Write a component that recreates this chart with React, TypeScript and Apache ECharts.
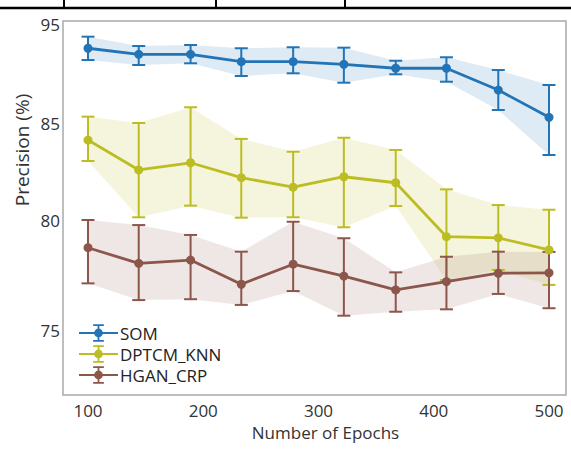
import React, { useEffect, useRef } from "react";
import * as echarts from "echarts";

// Training epochs (x) and precision statistics per model (mean / upper / lower, in %)
const epochs = [100, 144, 189, 233, 278, 322, 367, 411, 456, 500];

const somMean = [92.55, 91.94, 91.94, 91.19, 91.19, 90.93, 90.53, 90.53, 88.33, 85.57];
const somUpper = [93.72, 92.78, 92.88, 92.55, 92.65, 92.61, 91.29, 91.64, 90.35, 88.84];
const somLower = [91.36, 90.86, 91.03, 89.75, 90.02, 89.07, 89.92, 89.17, 86.31, 83.35];

const knnMean = [84.12, 82.58, 82.95, 82.18, 81.69, 82.23, 81.92, 79.24, 79.19, 78.64];
const knnUpper = [85.64, 85.0, 86.59, 84.18, 83.52, 84.24, 83.61, 81.58, 80.77, 80.53];
const knnLower = [83.04, 80.14, 80.74, 80.12, 80.14, 79.67, 80.72, 77.27, 77.73, 77.05];

const hganMean = [78.74, 78.03, 78.18, 77.08, 77.99, 77.45, 76.82, 77.2, 77.58, 77.6];
const hganUpper = [80.0, 79.77, 79.32, 78.56, 79.92, 79.17, 77.62, 78.33, 78.56, 78.55];
const hganLower = [77.12, 76.36, 76.4, 76.14, 76.77, 75.65, 75.83, 75.94, 76.64, 75.99];

const seriesNames = ["SOM", "DPTCM_KNN", "HGAN_CRP"];
const xTickLabels = [100, 200, 300, 400, 500];
const yTickLabels = [75, 80, 85, 95];

// The precision axis is broken into segments between its tick labels;
// each segment gets its own drawing span.
const ySegmentSpan = [110, 97, 99];
const yTickPos = yTickLabels.map((_, i) =>
  ySegmentSpan.slice(0, i).reduce((a, b) => a + b, 0)
);

function toAxis(v: number): number {
  const n = yTickLabels.length;
  if (v <= yTickLabels[0]) {
    const slope = ySegmentSpan[0] / (yTickLabels[1] - yTickLabels[0]);
    return (v - yTickLabels[0]) * slope;
  }
  for (let i = 0; i < n - 1; i++) {
    const a = yTickLabels[i];
    const b = yTickLabels[i + 1];
    if (v <= b) {
      return yTickPos[i] + ((v - a) / (b - a)) * ySegmentSpan[i];
    }
  }
  const slope = ySegmentSpan[n - 2] / (yTickLabels[n - 1] - yTickLabels[n - 2]);
  return yTickPos[n - 1] + (v - yTickLabels[n - 1]) * slope;
}

const FONT = "Open Sans";
const colors = ["#2274b6", "#bcbd22", "#8c564b"];
const bandFills = [
  "rgba(31,119,180,0.15)",
  "rgba(188,189,34,0.15)",
  "rgba(140,86,75,0.14)",
];

// legend glyph: line + error bar with caps + round marker
const legendIcon =
  "path://M0 8.1H40V9.9H0Z M19.1 1H20.9V17H19.1Z M14.5 0H25.5V1.8H14.5Z M14.5 16.2H25.5V18H14.5Z M24.5 9A4.5 4.5 0 1 1 15.5 9A4.5 4.5 0 1 1 24.5 9Z";

export default function App() {
  const ref = useRef<HTMLDivElement>(null);

  useEffect(() => {
    document.body.style.margin = "0";
    const chart = echarts.init(ref.current!, undefined, { renderer: "svg" });

    const groups = [
      { mean: somMean, upper: somUpper, lower: somLower },
      { mean: knnMean, upper: knnUpper, lower: knnLower },
      { mean: hganMean, upper: hganUpper, lower: hganLower },
    ];

    const lineSeries: any[] = groups.map((g, k) => ({
      name: seriesNames[k],
      type: "line",
      data: epochs.map((e, i) => [e, toAxis(g.mean[i])]),
      symbol: "circle",
      symbolSize: 9,
      showSymbol: true,
      itemStyle: { color: colors[k] },
      lineStyle: { color: colors[k], width: 2.8 },
      z: 5,
    }));

    const bandSeries: any[] = groups.map((g, k) => ({
      name: seriesNames[k],
      type: "custom",
      silent: true,
      data: [[epochs[0], toAxis(g.mean[0])]],
      itemStyle: { color: colors[k] },
      z: 1,
      renderItem: (_params: any, api: any) => {
        const top = epochs.map((e, i) => api.coord([e, toAxis(g.upper[i])]));
        const bottom = epochs
          .map((e, i) => api.coord([e, toAxis(g.lower[i])]))
          .reverse();
        return {
          type: "polygon",
          shape: { points: top.concat(bottom) },
          style: { fill: bandFills[k], stroke: "none" },
        };
      },
    }));

    const errorSeries: any[] = groups.map((g, k) => ({
      name: seriesNames[k],
      type: "custom",
      silent: true,
      data: epochs.map((e, i) => [e, toAxis(g.lower[i]), toAxis(g.upper[i])]),
      itemStyle: { color: colors[k] },
      z: 3,
      renderItem: (_params: any, api: any) => {
        const x = api.value(0);
        const pLo = api.coord([x, api.value(1)]);
        const pHi = api.coord([x, api.value(2)]);
        const hw = 6.5;
        const style = { stroke: colors[k], lineWidth: 2 };
        return {
          type: "group",
          children: [
            { type: "line", shape: { x1: pHi[0], y1: pHi[1], x2: pLo[0], y2: pLo[1] }, style },
            { type: "line", shape: { x1: pHi[0] - hw, y1: pHi[1], x2: pHi[0] + hw, y2: pHi[1] }, style },
            { type: "line", shape: { x1: pLo[0] - hw, y1: pLo[1], x2: pLo[0] + hw, y2: pLo[1] }, style },
          ],
        };
      },
    }));

    chart.setOption({
      animation: false,
      backgroundColor: "#ffffff",
      grid: {
        left: 63,
        right: 5,
        top: 21,
        bottom: 56,
        show: true,
        borderColor: "#a9a9a9",
        borderWidth: 1.5,
        backgroundColor: "transparent",
      },
      xAxis: {
        type: "value",
        min: 78.3,
        max: 514.75,
        name: "Number of Epochs",
        nameLocation: "middle",
        nameGap: 28,
        nameTextStyle: { fontFamily: FONT, fontSize: 17, color: "#333", padding: [0, 0, 0, 22] },
        axisLine: { show: false },
        axisTick: { show: false },
        splitLine: { show: false },
        axisLabel: {
          customValues: xTickLabels,
          fontFamily: FONT,
          fontSize: 17,
          color: "#333",
          margin: 7,
        },
      },
      yAxis: {
        type: "value",
        min: -65,
        max: 309,
        axisLine: { show: false },
        axisTick: { show: false },
        splitLine: { show: false },
        axisLabel: {
          customValues: yTickPos,
          fontFamily: FONT,
          fontSize: 17,
          color: "#333",
          margin: 3,
          formatter: (val: number) => {
            let best = 0;
            yTickPos.forEach((p, i) => {
              if (Math.abs(p - val) < Math.abs(yTickPos[best] - val)) best = i;
            });
            return String(yTickLabels[best]);
          },
        },
      },
      legend: {
        data: seriesNames.map((n) => ({ name: n, icon: legendIcon })),
        orient: "vertical",
        left: 74,
        top: 319,
        itemWidth: 39,
        itemHeight: 18,
        itemGap: 3,
        textStyle: {
          fontFamily: FONT,
          fontSize: 17,
          lineHeight: 18,
          color: "#222",
          padding: [0, 0, 0, -3],
        },
        selectedMode: false,
      },
      graphic: [
        {
          type: "text",
          x: 22,
          y: 150,
          rotation: Math.PI / 2,
          style: {
            text: "Precision (%)",
            fontFamily: FONT,
            fontSize: 19,
            fill: "#333",
            align: "center",
            verticalAlign: "middle",
          },
        },
        { type: "line", shape: { x1: 0, y1: 8, x2: 571, y2: 8 }, style: { stroke: "#000", lineWidth: 2.5 } },
        { type: "line", shape: { x1: 64, y1: 0, x2: 64, y2: 8 }, style: { stroke: "#000", lineWidth: 2 } },
        { type: "line", shape: { x1: 216, y1: 0, x2: 216, y2: 8 }, style: { stroke: "#000", lineWidth: 2 } },
        { type: "line", shape: { x1: 345, y1: 0, x2: 345, y2: 8 }, style: { stroke: "#000", lineWidth: 2 } },
      ],
      series: [...lineSeries, ...bandSeries, ...errorSeries],
    });

    return () => chart.dispose();
  }, []);

  return (
    <div
      ref={ref}
      style={{ position: "fixed", left: 0, top: 0, width: 571, height: 451 }}
    />
  );
}
